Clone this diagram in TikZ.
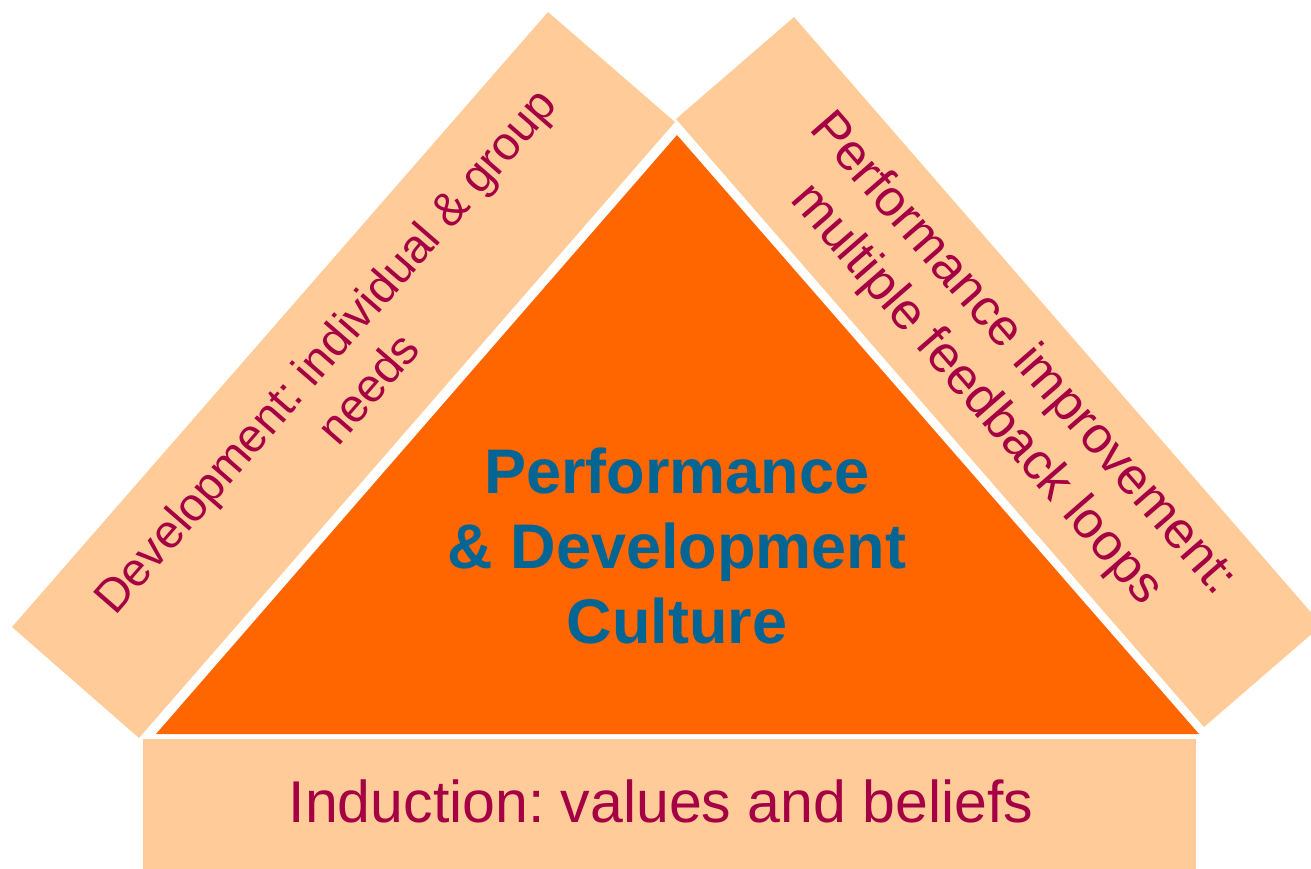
\documentclass[tikz,border=0pt]{standalone}
\usepackage{fontspec}
\setmainfont{Liberation Sans}
\frenchspacing
\definecolor{bandfill}{HTML}{FFCC99}
\definecolor{coreorange}{HTML}{FF6600}
\definecolor{labelred}{HTML}{A50044}
\definecolor{coreblue}{HTML}{036594}
\tikzset{
  band/.style={fill=bandfill, draw=none},
  core/.style={fill=coreorange, draw=none},
  bandtext/.style={text=labelred, align=center, inner sep=0pt},
  coretext/.style={text=coreblue, align=center, inner sep=0pt, font=\bfseries\fontsize{63}{75}\selectfont}
}
\begin{document}
\begin{tikzpicture}[x=1pt,y=-1pt]
\useasboundingbox (0,0) rectangle (1311,868);
\clip (0,0) rectangle (1311,868);
% bands
\fill[band] (12,627) -- (548,12) -- (675,122) -- (139,738) -- cycle;
\fill[band] (676,119) -- (794,17) -- (1322,625) -- (1204,727) -- cycle;
\fill[band] (143,739) rectangle (1196,880);
% core triangle
\fill[core] (156,734) -- (677,135) -- (1199,734) -- cycle;
% texts
\node[coretext] (core) at (677,546) {Performance\\ \& Development\\Culture};
\node[bandtext, anchor=base, font=\fontsize{59}{68}\selectfont] (induction) at (661,822) {Induction: values and beliefs};
\node[bandtext, rotate=49, font=\fontsize{47}{57}\selectfont] (development) at (346,369) {Development: individual \& group\\needs};
\node[bandtext, rotate=-49, font=\fontsize{51.5}{62}\selectfont] (improvement) at (999,375) {Performance improvement:\\multiple feedback loops};
\end{tikzpicture}
\end{document}
